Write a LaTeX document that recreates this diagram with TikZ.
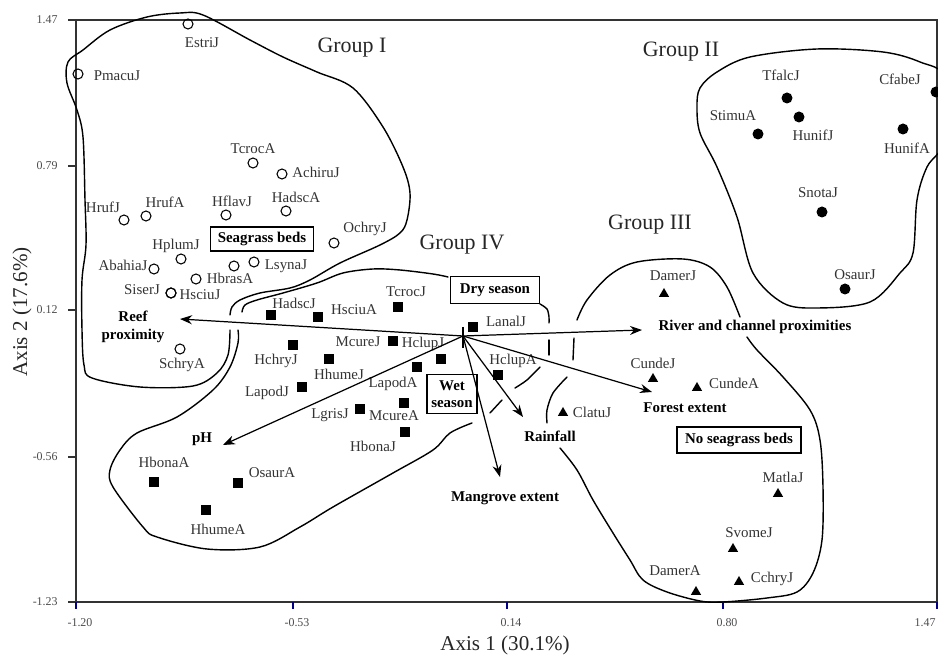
\documentclass[tikz,border=0pt]{standalone}
\usepackage{fontspec}
\setmainfont{Liberation Serif}
\usetikzlibrary{arrows.meta,shapes.geometric}

\begin{document}
\begin{tikzpicture}[
        x=0.02cm, y=-0.02cm,
        lab/.style={font=\fontsize{8.5}{10}\selectfont, inner sep=0pt, text=black!80},
        grp/.style={font=\fontsize{12.5}{14}\selectfont, inner sep=0pt, text=black!85},
        env/.style={font=\fontsize{8.5}{10}\selectfont\bfseries, inner sep=0pt,
                    align=center},
        envbox/.style={draw, line width=0.6pt, inner sep=0pt, align=center,
                       font=\fontsize{8.5}{10}\selectfont\bfseries},
        opn/.style={circle, draw, line width=0.6pt, inner sep=0pt, minimum size=0.2cm},
        dot/.style={circle, fill, inner sep=0pt, minimum size=0.22cm},
        sqr/.style={rectangle, fill, inner sep=0pt, minimum size=0.2cm},
        tri/.style={regular polygon, regular polygon sides=3, fill, inner sep=0pt,
                    minimum size=0.24cm},
        bnd/.style={line width=0.8pt, line cap=round},
        vec/.style={line width=0.7pt, -{Stealth[length=2.4mm,width=1.8mm]}},
        tck/.style={font=\fontsize{6.8}{8}\selectfont, inner sep=0pt, text=black!70},
      ]
        \useasboundingbox (0,0) rectangle (938,658);
        \clip (0,0) rectangle (938,658);

        % frame and ticks
        \draw[line width=0.8pt, black!80] (76,20) rectangle (937,602);
        \foreach \yy/\lab in {20/1.47,166/0.79,310/0.12,457/-0.56,602/-1.23} {
          \draw[line width=0.6pt, black!80] (68,\yy) -- (76,\yy);
          \node[tck, anchor=east] at (58,\yy) {\lab};
        }
        \foreach \xx/\lab in {76/-1.20,293/-0.53,507/0.14,723/0.80} {
          \draw[line width=0.6pt, blue!50!black] (\xx,602) -- (\xx,609);
          \node[tck] at (\xx+4,623) {\lab};
        }
        \draw[line width=0.6pt, blue!50!black] (937,602) -- (937,609);
        \node[tck, anchor=east] at (936,623) {1.47};
        \node[font=\fontsize{12}{14}\selectfont, text=black!85] (xtitle) at (505,645)
          {Axis 1 (30.1\%)};
        \node[font=\fontsize{12}{14}\selectfont, text=black!85, rotate=90] (ytitle)
          at (22,312) {Axis 2 (17.6\%)};

        % group outlines
        \draw[bnd] plot[smooth, tension=0.55] coordinates {
          (230,315) (232,307) (240,300) (260,293) (290,288) (310,280) (340,263)
          (380,245) (400,233) (407,220) (410,193) (403,167) (383,127) (353,88)
          (317,72) (283,57) (250,40) (203,15) (180,13) (147,17) (110,30) (83,50)
          (68,62) (67,83) (77,110) (83,137) (85,200) (86,245) (82,280) (82,330)
          (84,365) (92,378) (140,387) (193,386) (217,373) (228,355) (230,330)};
        \draw[bnd] plot[smooth, tension=0.55] coordinates {
          (242,312) (245,305) (257,300) (283,293) (317,283) (343,273) (373,269)
          (400,270) (433,274) (448,277)};
        \draw[bnd] plot[smooth] coordinates {(540,304) (547,309) (549,317) (549,323)};
        \draw[bnd] (549,340) -- (549,355);
        \draw[bnd] plot[smooth] coordinates {(540,367) (527,380) (515,388)};
        \draw[bnd] (502,400) -- (490,413);
        \draw[bnd] plot[smooth, tension=0.55] coordinates {
          (472,423) (450,433) (433,450) (393,473) (333,507) (300,527) (260,547)
          (207,549) (157,537) (143,527) (113,487) (110,470) (120,450) (137,433)
          (177,417) (213,390) (230,367) (238,343) (238,330)};
        \draw[bnd] plot[smooth, tension=0.55] coordinates {
          (577,320) (587,300) (610,275) (637,262) (683,259) (710,267) (727,287)
          (740,317)};
        \draw[bnd] plot[smooth, tension=0.55] coordinates {
          (747,337) (757,350) (783,377) (810,410) (820,440) (823,487) (822,540)
          (813,573) (797,592) (767,598) (723,602) (700,601) (667,592) (643,580)
          (630,560) (613,533) (593,500) (577,470) (560,448)};
        \draw[bnd] (574,338) -- (573,360);
        \draw[bnd] plot[smooth] coordinates {(567,377) (553,393) (547,410) (547,423)};
        \draw[bnd] plot[smooth cycle, tension=0.55] coordinates {
          (700,88) (717,72) (750,57) (817,49) (883,52) (920,62) (945,78)
          (945,140) (927,167) (917,200) (913,253) (900,273) (870,302) (817,308)
          (783,303) (753,273) (737,217) (717,167) (700,133) (697,107)};

        \node[grp] (gI) at (352,48) {Group I};
        \node[grp] (gII) at (681,52) {Group II};
        \node[grp] (gIII) at (650,225) {Group III};
        \node[grp] (gIV) at (462,245) {Group IV};

        % species scores
        \foreach \nm/\px/\py/\lx/\ly in {
          EstriJ/188/24/202/43, PmacuJ/78/74/117/76, TcrocA/253/163/253/149,
          AchiruJ/282/174/316/172, HrufJ/124/220/103/207, HrufA/146/216/165/202,
          HflavJ/226/215/232/201, HadscA/286/211/296/197, OchryJ/334/243/365/229,
          HplumJ/181/259/176/246, AbahiaJ/154/269/123/265, LsynaJ/254/262/286/266,
          HbrasA/196/279/230/278, SiserJ/171/293/142/290, HsciuJ/171/293/200/295,
          SchryA/180/349/182/365} {
          \node[opn] (p\nm) at (\px,\py) {};
          \node[lab] (l\nm) at (\lx,\ly) {\nm};
        }
        \node[opn] (pextra) at (234,266) {};

        \foreach \nm/\px/\py/\lx/\ly in {
          TfalcJ/787/98/781/75, HunifJ/799/117/813/135, StimuA/758/134/733/116,
          CfabeJ/936/92/900/79, HunifA/903/129/907/148, SnotaJ/822/212/818/193,
          OsaurJ/845/289/855/275} {
          \node[dot] (p\nm) at (\px,\py) {};
          \node[lab] (l\nm) at (\lx,\ly) {\nm};
        }

        \foreach \nm/\px/\py/\lx/\ly in {
          DamerJ/664/294/673/276, CundeJ/653/379/653/363, CundeA/697/388/734/383,
          ClatuJ/563/413/592/412, MatlaJ/778/494/783/477, SvomeJ/733/549/749/533,
          DamerA/696/592/675/571, CchryJ/739/582/772/579} {
          \node[tri] (p\nm) at (\px,\py) {};
          \node[lab] (l\nm) at (\lx,\ly) {\nm};
        }

        \foreach \nm/\px/\py/\lx/\ly in {
          HadscJ/271/315/294/303, HsciuA/318/317/354/310, TcrocJ/398/307/406/292,
          LanalJ/473/327/506/321, McureJ/393/341/358/342, HclupJ/441/359/423/344,
          HchryJ/293/345/276/361, HhumeJ/329/359/339/374, LapodA/417/367/393/384,
          LapodJ/302/387/267/393, LgrisJ/360/409/330/415, McureA/404/403/394/416,
          HbonaJ/405/432/373/446, HclupA/498/375/513/361, HbonaA/154/482/164/462,
          OsaurA/238/483/272/473, HhumeA/206/510/218/529} {
          \node[sqr] (p\nm) at (\px,\py) {};
          \node[lab] (l\nm) at (\lx,\ly) {\nm};
        }

        % environmental vectors
        \coordinate (orig) at (463,336);
        \coordinate (tReef) at (180,319);
        \coordinate (tRiver) at (642,330);
        \coordinate (tForest) at (652,392);
        \coordinate (tRain) at (523,417);
        \coordinate (tMangrove) at (500,477);
        \coordinate (tPH) at (223,445);
        \draw[line width=0.6pt] (463,327) -- (463,348);
        \foreach \tip in {tReef,tRiver,tForest,tRain,tMangrove,tPH} {
          \draw[vec] (orig) -- (\tip);
        }
        \node[env] (eReef) at (133,327) {Reef\\proximity};
        \node[env] (eRiver) at (755,327) {River and channel proximities};
        \node[env] (eForest) at (685,408) {Forest extent};
        \node[env] (eRain) at (550,436) {Rainfall};
        \node[env] (eMangrove) at (505,498) {Mangrove extent};
        \node[env] (ePH) at (202,439) {pH};

        \node[envbox, minimum width=2.06cm, minimum height=0.48cm] (bSeagrass)
          at (262,239) {Seagrass beds};
        \node[envbox, minimum width=1.78cm, minimum height=0.54cm] (bDry)
          at (495,290) {Dry season};
        \node[envbox, minimum width=2.48cm, minimum height=0.52cm] (bNoSeagrass)
          at (739,440) {No seagrass beds};
        \node[envbox, minimum width=1.0cm, minimum height=0.78cm] (bWet)
          at (452,394) {Wet\\season};
      \end{tikzpicture}
\end{document}
